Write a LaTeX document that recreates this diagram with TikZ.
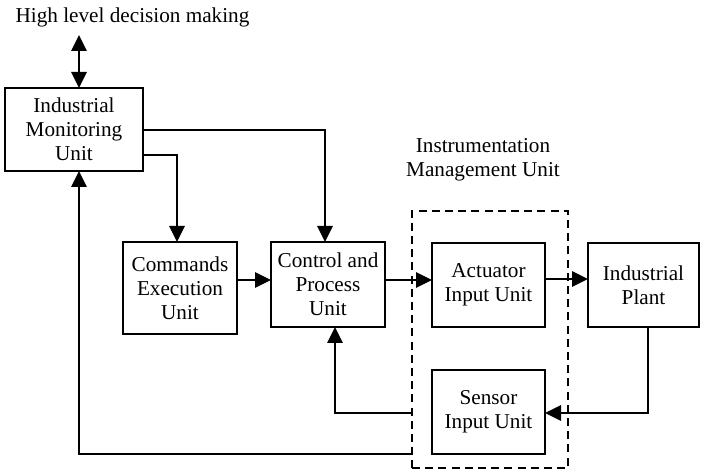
\documentclass[tikz,border=0pt]{standalone}
\usepackage{fontspec}
\setmainfont{Liberation Serif}
\usetikzlibrary{arrows.meta}
\begin{document}
\begin{tikzpicture}[x=0.5pt,y=-0.5pt,
  font=\rmfamily\fontsize{10.6}{12}\selectfont,
  unitbox/.style={draw,line width=1.4pt,align=center,inner sep=0pt,outer sep=0pt},
  groupbox/.style={draw,line width=1.4pt,dash pattern=on 4pt off 2.6pt,inner sep=0pt,outer sep=0pt},
  flow/.style={line width=1.4pt,-{Triangle[length=8pt,width=7.5pt]}},
  twoway/.style={line width=1.4pt,{Triangle[length=8pt,width=7.5pt]}-{Triangle[length=8pt,width=7.5pt]}},
  plain/.style={align=center,inner sep=0pt}]
\useasboundingbox (0,0) rectangle (701,474);

% labels
\node[plain] (hl) at (132.5,17) {High level decision making};
\node[plain] (iml) at (483,160) {Instrumentation\\Management Unit};

% grouping frame
\node[groupbox,minimum width=78pt,minimum height=128.5pt] (img) at (490,339.5) {};

% blocks
\node[unitbox,minimum width=69pt,minimum height=41.5pt] (imu) at (74,129.5) {Industrial\\Monitoring\\Unit};
\node[unitbox,minimum width=57pt,minimum height=46pt] (ceu) at (180,288) {Commands\\Execution\\Unit};
\node[unitbox,minimum width=57pt,minimum height=42.5pt] (cpu) at (328,284.5) {Control and\\Process\\Unit};
\node[unitbox,minimum width=56.5pt,minimum height=42pt] (aiu) at (488.5,285) {Actuator\\Input Unit};
\node[unitbox,minimum width=55.5pt,minimum height=42pt] (ip) at (643.5,285) {Industrial\\Plant};
\node[unitbox,minimum width=56.5pt,minimum height=42pt] (siu) at (488.5,412) {Sensor\\Input Unit};

\coordinate (hltip) at (79,35);

% connectors
\draw[twoway] (hltip) -- (imu.north -| hltip);
\draw[flow] (imu.east |- 0,130) -| (cpu.north -| 325,0);
\draw[flow] (imu.east |- 0,155) -| (ceu.north -| 177,0);
\draw[flow] (ceu.east |- 0,280) -- (cpu.west |- 0,280);
\draw[flow] (cpu.east |- 0,280) -- (aiu.west |- 0,280);
\draw[flow] (aiu.east |- 0,279) -- (ip.west |- 0,279);
\draw[flow] (ip.south -| 648,0) |- (siu.east |- 0,413);
\draw[flow] (img.west |- 0,413) -| (cpu.south -| 335,0);
\draw[flow] (img.west |- 0,454) -| (imu.south -| 79,0);
\end{tikzpicture}
\end{document}
